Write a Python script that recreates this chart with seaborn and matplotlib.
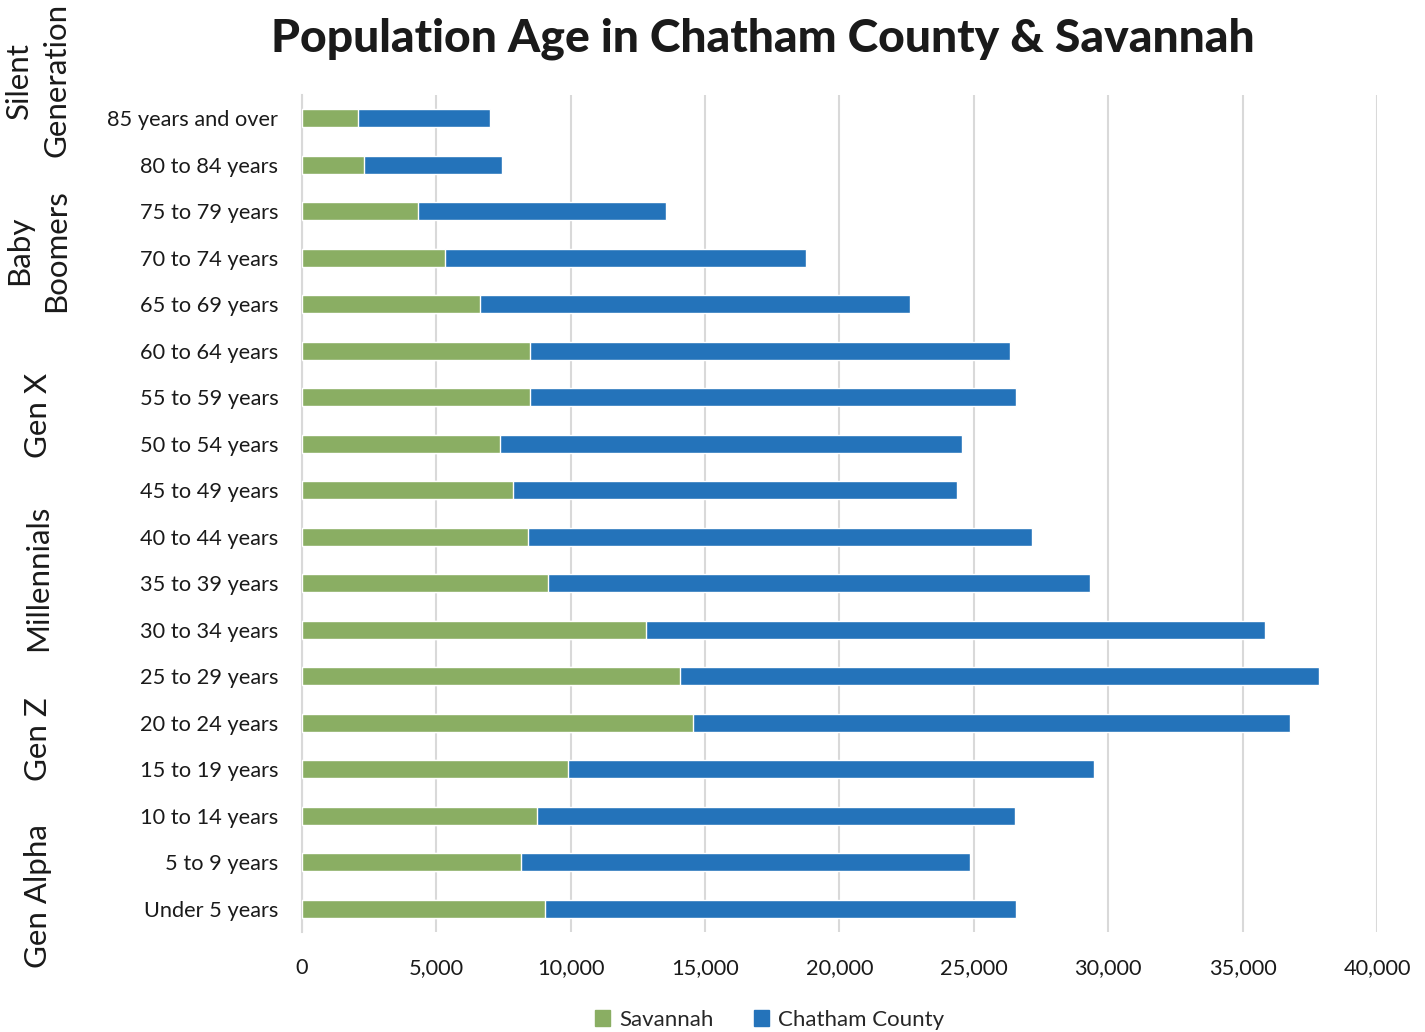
import pandas as pd
import seaborn as sns
import matplotlib.pyplot as plt
from matplotlib.patches import Patch
import matplotlib.transforms as mtransforms

# data
age_groups = ['85 years and over', '80 to 84 years', '75 to 79 years', '70 to 74 years',
              '65 to 69 years', '60 to 64 years', '55 to 59 years', '50 to 54 years',
              '45 to 49 years', '40 to 44 years', '35 to 39 years', '30 to 34 years',
              '25 to 29 years', '20 to 24 years', '15 to 19 years', '10 to 14 years',
              '5 to 9 years', 'Under 5 years']
savannah = [2080, 2290, 4300, 5310, 6620, 8480, 8480, 7370, 7850, 8410,
            9150, 12800, 14070, 14550, 9900, 8740, 8150, 9040]
chatham = [4930, 5150, 9260, 13440, 16000, 17860, 18090, 17190, 16520, 18750,
           20170, 23040, 23780, 22220, 19560, 17790, 16710, 17530]

generations = ['Silent\nGeneration', 'Baby\nBoomers', 'Gen X', 'Millennials', 'Gen Z', 'Gen Alpha']
gen_y = [-0.82, 2.84, 6.4, 9.88, 13.35, 16.72]

green = '#8AAE63'
blue = '#2473BA'

df = pd.DataFrame({'age': age_groups, 'Savannah': savannah, 'Chatham County': chatham})
df['total'] = df['Savannah'] + df['Chatham County']

sns.set_style('white')
plt.rcParams['font.family'] = ['Lato', 'DejaVu Sans']

fig = plt.figure(figsize=(14.25, 10.32), dpi=100)
ax = fig.add_axes([0.2119, 0.0969, 0.7544, 0.811])

# stacked look: total in blue, savannah drawn over it in green
sns.barplot(data=df, y='age', x='total', color=blue, width=0.39, saturation=1,
            orient='h', ax=ax, zorder=3)
sns.barplot(data=df, y='age', x='Savannah', color=green, width=0.39, saturation=1,
            orient='h', ax=ax, zorder=4)

ax.set_xlim(0, 40000)
ax.set_ylim(17.5, -0.5)
ax.set_xticks(range(0, 40001, 5000))
ax.set_xticklabels([f'{v:,}' for v in range(0, 40001, 5000)])
ax.grid(axis='x', color='#D9D9D9', linewidth=1.5, zorder=0)
ax.grid(axis='y', visible=False)
for s in ['top', 'right', 'bottom']:
    ax.spines[s].set_visible(False)
ax.spines['left'].set_color('#D9D9D9')
ax.spines['left'].set_linewidth(1.5)
ax.tick_params(axis='both', length=0, labelsize=15.7, colors='#1a1a1a')
ax.tick_params(axis='y', pad=17)
ax.tick_params(axis='x', pad=19)
ax.set_xlabel('')
ax.set_ylabel('')

# generation labels on the far left
trans = mtransforms.blended_transform_factory(fig.transFigure, ax.transData)
for name, y in zip(generations, gen_y):
    fig.text(0.0265, y, name, transform=trans, rotation=90, ha='center', va='center',
             fontsize=22.5, color='#1a1a1a', linespacing=1.4)

fig.text(0.535, 0.962, 'Population Age in Chatham County & Savannah', ha='center', va='center',
         fontsize=33.3, fontweight='black', color='#1a1a1a')

handles = [Patch(color=green, label='Savannah'), Patch(color=blue, label='Chatham County')]
fig.legend(handles=handles, loc='center', bbox_to_anchor=(0.54, 0.012), ncol=2,
           frameon=False, fontsize=16, handlelength=0.7, handleheight=0.7,
           handletextpad=0.4, columnspacing=1.8)

plt.savefig('out.png', dpi=100)
